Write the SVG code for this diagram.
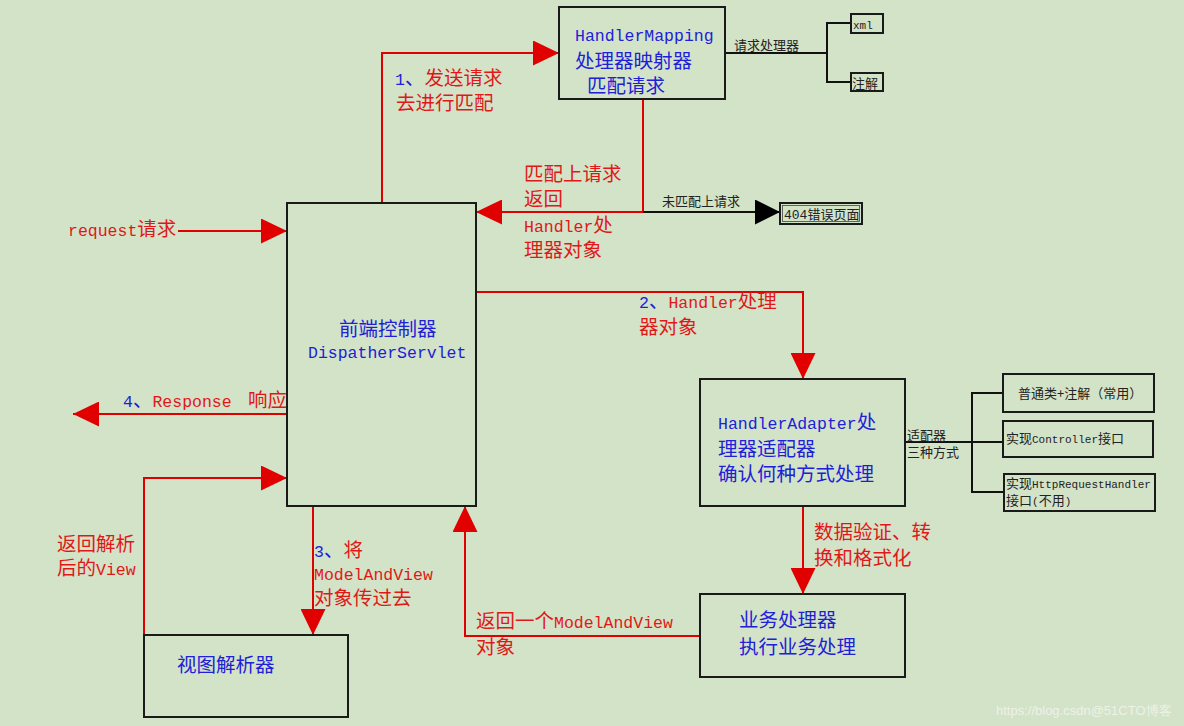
<svg xmlns="http://www.w3.org/2000/svg" width="1184" height="726" viewBox="0 0 1184 726">
<style>
.t{font-family:"Noto Sans CJK SC","Noto Sans CJK JP",sans-serif;font-size:19.5px}
.m{font-family:"Liberation Mono",monospace;font-size:16.5px}
.s{font-family:"Noto Sans CJK SC",sans-serif;font-size:13px;fill:#222}
.sm{font-family:"Liberation Mono",monospace;font-size:11px}
.sm2{font-family:"Liberation Mono",monospace;font-size:13px}
.r{fill:#E01818}
.b{fill:#2020D8}
.box{fill:none;stroke:#1a1a1a;stroke-width:2}
.rl{fill:none;stroke:#E00000;stroke-width:2}
.bl{fill:none;stroke:#111;stroke-width:2}
</style>
<defs>
<marker id="ra" viewBox="0 0 26 25" refX="26" refY="12.5" markerWidth="26" markerHeight="25" markerUnits="userSpaceOnUse" orient="auto"><path d="M0,0 L26,12.5 L0,25 Z" fill="#E00000"/></marker>
<marker id="ba" viewBox="0 0 25 25" refX="25" refY="12.5" markerWidth="25" markerHeight="25" markerUnits="userSpaceOnUse" orient="auto"><path d="M0,0 L25,12.5 L0,25 Z" fill="#000"/></marker>
</defs>
<rect width="1184" height="726" fill="#D3E3C8"/>

<g id="connectors">
<path class="rl" d="M382,203 V53 H559" marker-end="url(#ra)"/>
<path class="rl" d="M643,99 V212 H476" marker-end="url(#ra)"/>
<path class="bl" d="M643,212 H780" marker-end="url(#ba)"/>
<path class="rl" d="M476,292 H803 V379" marker-end="url(#ra)"/>
<path class="rl" d="M803,506 V594" marker-end="url(#ra)"/>
<path class="rl" d="M700,636 H465 V506" marker-end="url(#ra)"/>
<path class="rl" d="M313,506 V635" marker-end="url(#ra)"/>
<path class="rl" d="M144,635 V478 H287" marker-end="url(#ra)"/>
<path class="rl" d="M178,231 H287" marker-end="url(#ra)"/>
<path class="rl" d="M287,414 H73" marker-end="url(#ra)"/>
<path class="bl" d="M725,53 H827"/>
<path class="bl" d="M851,23 H827 V82 H851"/>
<path class="bl" d="M905,442 H1003"/>
<path class="bl" d="M1003,393 H972 V492 H1004"/>
</g>

<g id="labels">
<text class="t" x="395" y="85"><tspan class="m b">1</tspan><tspan class="b">、</tspan><tspan class="r">发送请求</tspan></text>
<text class="t r" x="396" y="110">去进行匹配</text>
<text class="t r" x="524" y="181">匹配上请求</text>
<text class="t r" x="524" y="206">返回</text>
<text class="t r" x="524" y="232"><tspan class="m">Handler</tspan>处</text>
<text class="t r" x="524" y="257">理器对象</text>
<text class="s" x="662" y="206">未匹配上请求</text>
<text class="s" x="734" y="50">请求处理器</text>
<text class="t r" x="68" y="236"><tspan class="m">request</tspan>请求</text>
<text class="t" x="123" y="407"><tspan class="m b">4</tspan><tspan class="b">、</tspan><tspan class="m r">Response</tspan></text>
<text class="t r" x="248" y="407">响应</text>
<text class="t" x="639" y="308"><tspan class="m b">2</tspan><tspan class="b">、</tspan><tspan class="m r">Handler</tspan><tspan class="r">处理</tspan></text>
<text class="t r" x="639" y="334">器对象</text>
<text class="t r" x="814" y="539">数据验证、转</text>
<text class="t r" x="814" y="565">换和格式化</text>
<text class="t r" x="476" y="628">返回一个<tspan class="m">ModelAndView</tspan></text>
<text class="t r" x="476" y="654">对象</text>
<text class="t" x="314" y="557"><tspan class="m b">3</tspan><tspan class="b">、</tspan><tspan class="r">将</tspan></text>
<text class="m r" x="314" y="580">ModelAndView</text>
<text class="t r" x="314" y="605">对象传过去</text>
<text class="t r" x="57" y="551">返回解析</text>
<text class="t r" x="57" y="575">后的<tspan class="m">View</tspan></text>
<text class="s" x="907" y="440">适配器</text>
<text class="s" x="907" y="457">三种方式</text>
</g>

<g id="handlerMapping">
<rect class="box" x="559" y="7" width="166" height="92"/>
<text class="m b" x="575" y="41">HandlerMapping</text>
<text class="t b" x="575" y="68">处理器映射器</text>
<text class="t b" x="587" y="93">匹配请求</text>
</g>

<g id="xml">
<rect class="box" x="851" y="14" width="32" height="19"/>
<text class="sm" x="853" y="29" fill="#222">xml</text>
</g>

<g id="annotation">
<rect class="box" x="851" y="73" width="32" height="18"/>
<text class="s" x="852" y="88">注解</text>
</g>

<g id="error404">
<rect class="box" x="780" y="203" width="82" height="21"/>
<rect x="782.5" y="205.5" width="77" height="16" fill="none" stroke="#444" stroke-width="0.8"/>
<text class="s" x="784" y="219"><tspan class="sm2">404</tspan>错误页面</text>
</g>

<g id="dispatcherServlet">
<rect class="box" x="287" y="203" width="189" height="303"/>
<text class="t b" x="339" y="336">前端控制器</text>
<text class="m b" x="308" y="358">DispatherServlet</text>
</g>

<g id="handlerAdapter">
<rect class="box" x="700" y="379" width="205" height="127"/>
<text class="t b" x="718" y="429"><tspan class="m">HandlerAdapter</tspan>处</text>
<text class="t b" x="718" y="456">理器适配器</text>
<text class="t b" x="718" y="481">确认何种方式处理</text>
</g>

<g id="way1">
<rect class="box" x="1003" y="374" width="151" height="38"/>
<text class="s" x="1018" y="398">普通类+注解（常用）</text>
</g>

<g id="way2">
<rect class="box" x="1003" y="421" width="150" height="36"/>
<text class="s" x="1006" y="443">实现<tspan class="sm">Controller</tspan>接口</text>
</g>

<g id="way3">
<rect class="box" x="1004" y="474" width="151" height="37"/>
<text class="s" x="1006" y="488">实现<tspan class="sm">HttpRequestHandler</tspan></text>
<text class="s" x="1006" y="505">接口<tspan class="sm">(</tspan>不用<tspan class="sm">)</tspan></text>
</g>

<g id="businessProcessor">
<rect class="box" x="700" y="594" width="205" height="83"/>
<text class="t b" x="739" y="627">业务处理器</text>
<text class="t b" x="739" y="654">执行业务处理</text>
</g>

<g id="viewResolver">
<rect class="box" x="144" y="635" width="204" height="82"/>
<text class="t b" x="177" y="672">视图解析器</text>
</g>

<text x="996" y="715" font-family="Liberation Sans, sans-serif" font-size="13" fill="#F2F5EF" opacity="0.85">https://blog.csdn@51CTO博客</text>
</svg>
